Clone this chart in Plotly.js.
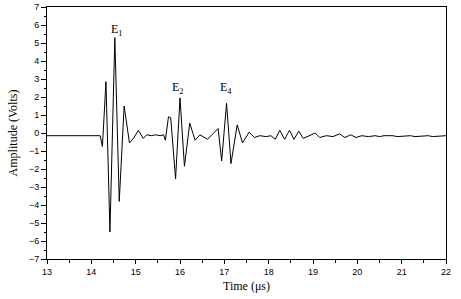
<!DOCTYPE html>
<html><head><meta charset="utf-8">
<script src="https://cdn.plot.ly/plotly-3.0.1.min.js"></script>
<style>html,body{margin:0;padding:0;background:#fff}#c{width:461px;height:299px}</style>
</head><body><div id="c"></div>
<script>
const timeUs = [13.00,14.20,14.25,14.33,14.42,14.53,14.63,14.74,14.86,14.95,15.06,15.17,15.25,15.35,15.45,15.55,15.63,15.67,15.74,15.79,15.90,16.00,16.10,16.22,16.34,16.45,16.62,16.86,16.94,17.05,17.15,17.29,17.41,17.56,17.68,17.80,17.95,18.05,18.15,18.25,18.36,18.47,18.57,18.68,18.78,18.90,19.05,19.15,19.30,19.45,19.60,19.72,19.85,19.97,20.10,20.25,20.40,20.50,20.60,20.80,20.90,21.20,21.30,21.60,21.70,22.00];
const amplitude = [-0.15,-0.15,-0.75,2.85,-5.5,5.3,-3.8,1.5,-0.55,-0.3,0.15,-0.3,-0.1,-0.15,-0.1,-0.15,-0.1,-0.4,0.9,0.85,-2.55,1.95,-1.85,0.55,-0.4,-0.1,-0.35,0.25,-1.55,1.65,-1.7,0.45,-0.55,0.05,-0.25,-0.15,-0.2,-0.15,-0.35,0.15,-0.35,0.15,-0.35,0.1,-0.3,-0.15,0.0,-0.25,-0.15,-0.2,-0.05,-0.25,-0.1,-0.25,-0.15,-0.2,-0.15,-0.2,-0.15,-0.15,-0.2,-0.15,-0.2,-0.15,-0.2,-0.15];
const labelText = ["E<sub>1</sub>","E<sub>2</sub>","E<sub>4</sub>"];
const labelX = [14.57,15.96,17.04];
const labelY = [5.7,2.5,2.5];

const tickFont = {family:"Liberation Sans, Arial, sans-serif", size:9, color:"#000"};
const titleFont = {family:"Liberation Serif, Times New Roman, serif", size:12, color:"#000"};

const trace = {x:timeUs, y:amplitude, type:"scatter", mode:"lines", line:{color:"#000", width:1}, hoverinfo:"skip"};

const layout = {
  width:461, height:299,
  margin:{l:47, r:15, t:7, b:40},
  paper_bgcolor:"#fff", plot_bgcolor:"#fff",
  showlegend:false,
  xaxis:{range:[13,22], dtick:1, tick0:13, ticks:"outside", ticklen:4, tickwidth:1, tickcolor:"#000",
    minor:{dtick:0.5, ticks:"outside", ticklen:3, tickcolor:"#000", showgrid:false},
    showline:true, linecolor:"#000", linewidth:1, mirror:true, showgrid:false, zeroline:false,
    tickfont:tickFont, title:{text:"Time (\u03bcs)", font:titleFont, standoff:5}},
  yaxis:{range:[-7,7], dtick:1, tick0:0, ticks:"outside", ticklen:5, tickwidth:1, tickcolor:"#000",
    minor:{dtick:0.5, ticks:"outside", ticklen:2, tickcolor:"#000", showgrid:false},
    showline:true, linecolor:"#000", linewidth:1, mirror:true, showgrid:false, zeroline:false,
    tickfont:tickFont, title:{text:"Amplitude (Volts)", font:titleFont, standoff:8}},
  annotations: labelText.map((t,i)=>({x:labelX[i], y:labelY[i], xref:"x", yref:"y", text:t, showarrow:false,
    font:{family:"Liberation Serif, Times New Roman, serif", size:12, color:"#000"}}))
};
Plotly.newPlot("c",[trace],layout,{staticPlot:true,displayModeBar:false});
</script></body></html>
